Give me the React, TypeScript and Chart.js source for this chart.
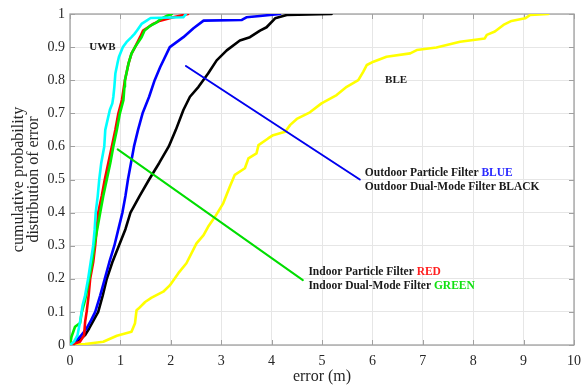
import { useEffect, useRef } from 'react';
import { Chart, registerables } from 'chart.js';
Chart.register(...registerables);

// ---------- data ----------
const xTickValues = [0, 1, 2, 3, 4, 5, 6, 7, 8, 9, 10];
const yTickValues = [0, 0.1, 0.2, 0.3, 0.4, 0.5, 0.6, 0.7, 0.8, 0.9, 1];

const uwbCyan: number[][] = [
  [0, 0], [0.08, 0.01], [0.15, 0.03], [0.2, 0.07], [0.25, 0.12], [0.3, 0.15], [0.36, 0.2], [0.41, 0.25],
  [0.46, 0.3], [0.49, 0.35], [0.51, 0.4], [0.55, 0.45], [0.58, 0.5], [0.62, 0.55], [0.68, 0.6], [0.7, 0.65],
  [0.76, 0.69], [0.79, 0.71], [0.84, 0.73], [0.86, 0.75], [0.88, 0.78], [0.9, 0.82], [0.94, 0.85], [0.97, 0.87],
  [1.05, 0.9], [1.12, 0.915], [1.22, 0.93], [1.28, 0.94], [1.33, 0.95], [1.42, 0.97], [1.52, 0.98],
  [1.6, 0.988], [2.25, 0.99], [2.3, 1.0],
];
const indoorRed: number[][] = [
  [0, 0], [0.2, 0.01], [0.28, 0.03], [0.3, 0.07], [0.33, 0.1], [0.37, 0.15], [0.4, 0.2], [0.46, 0.25],
  [0.5, 0.3], [0.53, 0.35], [0.56, 0.4], [0.63, 0.45], [0.69, 0.5], [0.76, 0.55], [0.83, 0.6], [0.9, 0.65],
  [0.96, 0.7], [1.03, 0.74], [1.06, 0.77], [1.09, 0.8], [1.16, 0.85], [1.22, 0.88], [1.29, 0.9],
  [1.39, 0.93], [1.45, 0.95], [1.55, 0.96], [1.65, 0.97], [1.79, 0.98], [2.05, 0.99], [2.34, 1.0],
];
const indoorGreen: number[][] = [
  [0, 0], [0.03, 0.025], [0.1, 0.055], [0.2, 0.066], [0.23, 0.096], [0.3, 0.136], [0.38, 0.2], [0.44, 0.25],
  [0.48, 0.3], [0.54, 0.35], [0.6, 0.4], [0.66, 0.45], [0.73, 0.5], [0.8, 0.55], [0.86, 0.6], [0.93, 0.65],
  [0.99, 0.7], [1.06, 0.74], [1.08, 0.78], [1.09, 0.8], [1.16, 0.85], [1.22, 0.88], [1.29, 0.9],
  [1.42, 0.93], [1.48, 0.95], [1.6, 0.965], [1.72, 0.975], [1.8, 0.985], [1.93, 0.995], [2.02, 1.0],
];
const outdoorBlue: number[][] = [
  [0, 0], [0.1, 0.01], [0.2, 0.025], [0.33, 0.05], [0.42, 0.075], [0.5, 0.1], [0.6, 0.15], [0.69, 0.2],
  [0.78, 0.25], [0.88, 0.3], [0.96, 0.35], [1.04, 0.4], [1.1, 0.45], [1.15, 0.5], [1.21, 0.55], [1.27, 0.6],
  [1.35, 0.65], [1.44, 0.7], [1.57, 0.75], [1.68, 0.8], [1.79, 0.84], [1.98, 0.9],
  [2.25, 0.93], [2.45, 0.957], [2.65, 0.98], [3.41, 0.982], [3.5, 0.99], [3.77, 0.994], [4.17, 1.0],
];
const outdoorBlack: number[][] = [
  [0, 0], [0.15, 0.01], [0.3, 0.03], [0.38, 0.05], [0.47, 0.075], [0.56, 0.1], [0.65, 0.15], [0.73, 0.2],
  [0.84, 0.25], [0.97, 0.3], [1.1, 0.35], [1.2, 0.4], [1.38, 0.45], [1.57, 0.5], [1.77, 0.55], [1.96, 0.6],
  [2.1, 0.65], [2.25, 0.71], [2.38, 0.75], [2.55, 0.78], [2.74, 0.82], [2.91, 0.86], [3.11, 0.89],
  [3.37, 0.92], [3.57, 0.93], [3.77, 0.95], [3.9, 0.96], [4.07, 0.987], [4.3, 0.997], [5.19, 1.0],
];
const bleYellow: number[][] = [
  [0, 0], [0.3, 0.003], [0.66, 0.01], [0.93, 0.028], [1.22, 0.04], [1.29, 0.066], [1.32, 0.105],
  [1.36, 0.11], [1.49, 0.13], [1.62, 0.143], [1.85, 0.161], [1.98, 0.18], [2.15, 0.217], [2.31, 0.247],
  [2.51, 0.307], [2.65, 0.332], [2.74, 0.357], [2.88, 0.388], [3.04, 0.428], [3.17, 0.478], [3.27, 0.514],
  [3.47, 0.534], [3.54, 0.564], [3.7, 0.579], [3.74, 0.604], [3.93, 0.624], [4.03, 0.634], [4.27, 0.644],
  [4.37, 0.665], [4.5, 0.683], [4.76, 0.703], [4.99, 0.73], [5.29, 0.755], [5.49, 0.78], [5.72, 0.8],
  [5.82, 0.826], [5.89, 0.846], [6.02, 0.856], [6.28, 0.871], [6.75, 0.881], [6.88, 0.891], [7.27, 0.899],
  [7.74, 0.916], [8.23, 0.926], [8.27, 0.937], [8.43, 0.947], [8.6, 0.967], [8.76, 0.979], [9.03, 0.987],
  [9.13, 0.997], [9.49, 1.0],
];
const outdoorPointer: number[][] = [[2.3, 0.843], [5.75, 0.5]];
const indoorPointer: number[][] = [[0.946, 0.591], [4.62, 0.196]];

// label anchors in data units
const uwbLabelAt = [0.645, 0.9];
const bleLabelAt = [6.47, 0.8];
const outdoorLabelAt = [5.85, 0.52, 0.478];
const indoorLabelAt = [4.73, 0.221, 0.179];

const SERIF = '"Liberation Serif", "Times New Roman", serif';

const toXY = (arr: number[][]) => arr.map(([x, y]) => ({ x, y }));

const framePlugin = {
  id: 'frame',
  beforeDatasetsDraw(chart: any) {
    const { ctx, chartArea: a, scales } = chart;
    ctx.save();
    ctx.strokeStyle = '#a0a0a0';
    ctx.lineWidth = 1;
    ctx.beginPath();
    const tl = 5;
    xTickValues.forEach((v) => {
      const px = Math.round(scales.x.getPixelForValue(v)) + 0.5;
      ctx.moveTo(px, a.bottom);
      ctx.lineTo(px, a.bottom - tl);
      ctx.moveTo(px, a.top);
      ctx.lineTo(px, a.top + tl);
    });
    yTickValues.forEach((v) => {
      const py = Math.round(scales.y.getPixelForValue(v)) + 0.5;
      ctx.moveTo(a.left, py);
      ctx.lineTo(a.left + tl, py);
      ctx.moveTo(a.right, py);
      ctx.lineTo(a.right - tl, py);
    });
    ctx.stroke();
    ctx.lineWidth = 1.3;
    ctx.strokeRect(a.left, a.top, a.right - a.left, a.bottom - a.top);
    ctx.restore();
  },
};

function drawParts(ctx: any, x: number, y: number, parts: [string, string][]) {
  let cx = x;
  parts.forEach(([t, c]) => {
    ctx.fillStyle = c;
    ctx.fillText(t, cx, y);
    cx += ctx.measureText(t).width;
  });
}

const textPlugin = {
  id: 'texts',
  afterDatasetsDraw(chart: any) {
    const { ctx, scales } = chart;
    const X = (v: number) => scales.x.getPixelForValue(v);
    const Y = (v: number) => scales.y.getPixelForValue(v);
    ctx.save();
    ctx.font = `bold 11px ${SERIF}`;
    ctx.textBaseline = 'middle';
    ctx.textAlign = 'center';
    ctx.fillStyle = '#1a1a1a';
    ctx.fillText('UWB', X(uwbLabelAt[0]), Y(uwbLabelAt[1]));
    ctx.fillText('BLE', X(bleLabelAt[0]), Y(bleLabelAt[1]));
    ctx.textAlign = 'left';
    ctx.font = `bold 11.5px ${SERIF}`;
    drawParts(ctx, X(outdoorLabelAt[0]), Y(outdoorLabelAt[1]), [['Outdoor Particle Filter ', '#1a1a1a'], ['BLUE', '#2b2bff']]);
    drawParts(ctx, X(outdoorLabelAt[0]), Y(outdoorLabelAt[2]), [['Outdoor Dual-Mode Filter ', '#1a1a1a'], ['BLACK', '#1a1a1a']]);
    drawParts(ctx, X(indoorLabelAt[0]), Y(indoorLabelAt[1]), [['Indoor Particle Filter ', '#1a1a1a'], ['RED', '#ff2020']]);
    drawParts(ctx, X(indoorLabelAt[0]), Y(indoorLabelAt[2]), [['Indoor Dual-Mode Filter ', '#1a1a1a'], ['GREEN', '#10e010']]);
    ctx.restore();
  },
};

export default function App() {
  const ref = useRef<HTMLCanvasElement>(null);
  useEffect(() => {
    document.body.style.margin = '0';
    const mk = (data: number[][], color: string, width: number) => ({
      data: toXY(data),
      borderColor: color,
      backgroundColor: color,
      borderWidth: width,
      showLine: true,
      pointRadius: 0,
      pointHoverRadius: 0,
      tension: 0,
      fill: false,
      borderJoinStyle: 'round' as const,
      borderCapStyle: 'round' as const,
    });
    const chart = new Chart(ref.current!, {
      type: 'scatter',
      data: {
        datasets: [
          mk(outdoorPointer, '#0000ee', 2),
          mk(indoorPointer, '#00dd00', 2),
          mk(uwbCyan, '#00ffff', 2.6),
          mk(indoorGreen, '#00ee00', 2.6),
          mk(indoorRed, '#ff0000', 2.6),
          mk(outdoorBlue, '#0000ff', 2.6),
          mk(outdoorBlack, '#000000', 2.6),
          mk(bleYellow, '#ffff00', 2.6),
        ],
      },
      options: {
        responsive: false,
        animation: false,
        devicePixelRatio: 1,
        layout: { padding: { top: 14, right: 11, left: 0, bottom: 0 } },
        plugins: { legend: { display: false }, tooltip: { enabled: false } },
        scales: {
          x: {
            type: 'linear',
            min: 0,
            max: 10,
            afterBuildTicks: (s: any) => { s.ticks = xTickValues.map((v) => ({ value: v })); },
            afterFit: (s: any) => { s.height = 41; s.paddingRight = 8; s.paddingLeft = 0; },
            ticks: { color: '#262626', font: { family: SERIF, size: 14 }, padding: 8, maxRotation: 0 },
            grid: { color: '#e6e6e6', drawTicks: false },
            border: { display: false },
            title: { display: true, text: 'error (m)', color: '#262626', font: { family: SERIF, size: 16, lineHeight: 1.1 }, padding: { top: 0, bottom: 0 } },
          },
          y: {
            type: 'linear',
            min: 0,
            max: 1,
            afterBuildTicks: (s: any) => { s.ticks = yTickValues.map((v) => ({ value: v })); },
            afterFit: (s: any) => { s.width = 70; },
            ticks: {
              color: '#262626',
              font: { family: SERIF, size: 14 },
              padding: 5,
              callback: (v: any) => String(Math.round(Number(v) * 10) / 10),
            },
            grid: { color: '#e6e6e6', drawTicks: false },
            border: { display: false },
            title: {
              display: true,
              text: ['cumulative probability', 'distribution of error'],
              color: '#262626',
              font: { family: SERIF, size: 16, lineHeight: 0.95 },
              padding: { top: 11, bottom: 0 },
            },
          },
        },
      },
      plugins: [framePlugin, textPlugin],
    } as any);
    return () => chart.destroy();
  }, []);
  return (
    <div style={{ width: 585, height: 386 }}>
      <canvas ref={ref} width={585} height={386} style={{ display: 'block' }} />
    </div>
  );
}
